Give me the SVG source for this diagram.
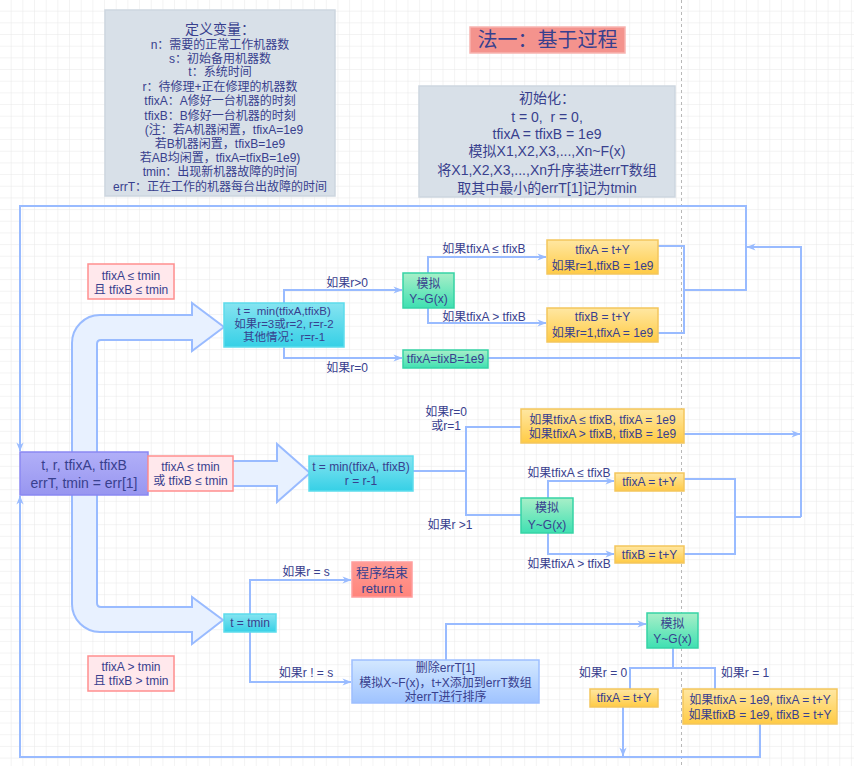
<svg xmlns="http://www.w3.org/2000/svg" width="854" height="766" viewBox="0 0 854 766">
<defs>
<pattern id="grid" width="11.67" height="11.67" patternUnits="userSpaceOnUse">
<path d="M11.67,0 V11.67 H0" fill="none" stroke="#e8e8e8" stroke-width="1"/>
</pattern>
<linearGradient id="gC" x1="0" y1="0" x2="0" y2="1"><stop offset="0" stop-color="#86e4f1"/><stop offset="1" stop-color="#36d0e6"/></linearGradient>
<linearGradient id="gG" x1="0" y1="0" x2="0" y2="1"><stop offset="0" stop-color="#a8efc8"/><stop offset="1" stop-color="#3fe0b2"/></linearGradient>
<linearGradient id="gY" x1="0" y1="0" x2="0" y2="1"><stop offset="0" stop-color="#ffe7a2"/><stop offset="1" stop-color="#ffcb45"/></linearGradient>
<linearGradient id="gB" x1="0" y1="0" x2="0" y2="1"><stop offset="0" stop-color="#d3e8ff"/><stop offset="1" stop-color="#9fc3ff"/></linearGradient>
<linearGradient id="gP" x1="0" y1="0" x2="0" y2="1"><stop offset="0" stop-color="#b1aff8"/><stop offset="1" stop-color="#9896f0"/></linearGradient>
<linearGradient id="gR" x1="0" y1="0" x2="0" y2="1"><stop offset="0" stop-color="#ff9c95"/><stop offset="1" stop-color="#ff847b"/></linearGradient>
<marker id="a" viewBox="0 0 10 10" refX="9.5" refY="5" markerWidth="9" markerHeight="9" orient="auto" markerUnits="userSpaceOnUse">
<path d="M0,1 L10,5 L0,9 L3,5 Z" fill="#99bbff"/>
</marker>
<style>
.t{font-family:"Liberation Sans","Noto Sans CJK SC",sans-serif;fill:#38408e;text-anchor:middle;font-size:12px}
.c{fill:none;stroke:#99bbff;stroke-width:2}
.ar{marker-end:url(#a)}
.gray{fill:#d8e0e8;stroke:#cdd6df;stroke-width:1.5}
.cy{fill:url(#gC);stroke:#5cdcec;stroke-width:1.5}
.gr{fill:url(#gG);stroke:#36d4a5;stroke-width:1.5}
.ye{fill:url(#gY);stroke:#f4c65c;stroke-width:1.5}
.pk{fill:#ffe8ec;stroke:#ff8f8f;stroke-width:1.5}
.big{fill:#e8f1ff;stroke:#99bbff;stroke-width:2}
</style>
</defs>
<rect width="854" height="766" fill="#ffffff"/>
<rect width="854" height="766" fill="url(#grid)"/>
<line x1="681.5" y1="0" x2="681.5" y2="766" stroke="#b8b8b8" stroke-width="1" stroke-dasharray="3,3"/>

<g id="defs-box">
<rect class="gray" x="105" y="10" width="230" height="186"/>
<text class="t" x="220" y="34" style="font-size:14px">定义变量：</text>
<text class="t" x="220" y="49">n：需要的正常工作机器数</text>
<text class="t" x="220" y="63">s：初始备用机器数</text>
<text class="t" x="220" y="76">t：系统时间</text>
<text class="t" x="220" y="91">r：待修理+正在修理的机器数</text>
<text class="t" x="220" y="105">tfixA：A修好一台机器的时刻</text>
<text class="t" x="220" y="120">tfixB：B修好一台机器的时刻</text>
<text class="t" x="224" y="134">(注：若A机器闲置，tfixA=1e9</text>
<text class="t" x="220" y="148">若B机器闲置，tfixB=1e9</text>
<text class="t" x="220" y="162">若AB均闲置，tfixA=tfixB=1e9)</text>
<text class="t" x="220" y="176">tmin：出现新机器故障的时间</text>
<text class="t" x="220" y="191">errT：正在工作的机器每台出故障的时间</text>
</g>

<g id="title">
<rect x="470" y="27" width="155" height="26" fill="#f4938d" stroke="#f8b4b0" stroke-width="1.5"/>
<text class="t" x="547.5" y="47" style="font-size:20px">法一：基于过程</text>
</g>

<g id="init">
<rect class="gray" x="419" y="86" width="256" height="111"/>
<text class="t" x="547" y="103" style="font-size:14px">初始化：</text>
<text class="t" x="547" y="122" style="font-size:14px">t = 0,&#160; r = 0,</text>
<text class="t" x="547" y="139" style="font-size:14px">tfixA = tfixB = 1e9</text>
<text class="t" x="547" y="156" style="font-size:14px">模拟X1,X2,X3,...,Xn~F(x)</text>
<text class="t" x="547" y="175" style="font-size:14px">将X1,X2,X3,...,Xn升序装进errT数组</text>
<text class="t" x="547" y="193" style="font-size:14px">取其中最小的errT[1]记为tmin</text>
</g>

<g id="connectors">
<path class="c" d="M658,246 H684 V333 H658"/>
<path class="c ar" d="M684,290 H746 V206 H20 V451"/>
<path class="c" d="M488,358 H801"/>
<path class="c ar" d="M684,434 H800"/>
<path class="c ar" d="M801,517 V247 H747"/>
<path class="c ar" d="M284,303 V290 H402"/>
<path class="c ar" d="M284,347 V358 H402"/>
<path class="c ar" d="M428,273 V257 H546"/>
<path class="c ar" d="M428,308 V323 H546"/>
<path class="c" d="M413,471 H466"/>
<path class="c" d="M521,427 H466 V515 H521"/>
<path class="c ar" d="M548,498 V481 H614"/>
<path class="c ar" d="M548,533 V554 H614"/>
<path class="c" d="M684,479 H735 V554 H684"/>
<path class="c" d="M735,517 H801"/>
<path class="c ar" d="M250,614 V580 H351"/>
<path class="c ar" d="M250,632 V682 H351"/>
<path class="c ar" d="M446,660 V624 H646"/>
<path class="c" d="M673,648 V668"/>
<path class="c" d="M630,689 V668 H715 V689"/>
<path class="c ar" d="M623,707 V756"/>
<path class="c ar" d="M760,724 V757 H20 V496"/>
</g>

<g id="edge-labels">
<text class="t" x="347" y="287">如果r&gt;0</text>
<text class="t" x="347" y="372">如果r=0</text>
<text class="t" x="484" y="253">如果tfixA ≤ tfixB</text>
<text class="t" x="484" y="321">如果tfixA &gt; tfixB</text>
<text class="t" x="446" y="416">如果r=0</text>
<text class="t" x="446" y="430">或r=1</text>
<text class="t" x="450" y="529">如果r &gt;1</text>
<text class="t" x="569" y="477">如果tfixA ≤ tfixB</text>
<text class="t" x="569" y="568">如果tfixA &gt; tfixB</text>
<text class="t" x="306" y="576">如果r = s</text>
<text class="t" x="306" y="677">如果r ! = s</text>
<text class="t" x="603" y="677">如果r = 0</text>
<text class="t" x="745" y="677">如果r = 1</text>
</g>

<g id="big-arrows">
<path class="big" d="M72,470 V343 A28,28 0 0 1 100,315 H192 V303 L224,327 L192,351 V340 H101 Q97,340 97,344 V470 Z"/>
<path class="big" d="M72,475 V604 A28,28 0 0 0 100,632 H192 V644 L223,620 L192,597 V607 H101 Q97,607 97,603 V475 Z"/>
<path class="big" d="M150,461 H277 V444 L310,473 L277,502 V486 H150 Z"/>
</g>

<g id="state">
<rect x="20" y="452" width="128" height="43" fill="url(#gP)" stroke="#8a88f2" stroke-width="1.5"/>
<text class="t" x="84" y="470" style="font-size:14px">t, r, tfixA, tfixB</text>
<text class="t" x="84" y="488" style="font-size:14px">errT, tmin = err[1]</text>
</g>

<g id="cond-mid">
<rect class="pk" x="148" y="456" width="85" height="35"/>
<text class="t" x="190.5" y="471">tfixA ≤ tmin</text>
<text class="t" x="190.5" y="485">或 tfixB ≤ tmin</text>
</g>

<g id="cond-up">
<rect class="pk" x="88" y="264" width="86" height="35"/>
<text class="t" x="131" y="280">tfixA ≤ tmin</text>
<text class="t" x="131" y="294">且 tfixB ≤ tmin</text>
</g>

<g id="cond-down">
<rect class="pk" x="88" y="656" width="86" height="35"/>
<text class="t" x="131" y="671">tfixA &gt; tmin</text>
<text class="t" x="131" y="685">且 tfixB &gt; tmin</text>
</g>

<g id="tmin-up">
<rect class="cy" x="224" y="303" width="120" height="44"/>
<text class="t" x="284" y="315" style="font-size:11.5px">t =&#160; min(tfixA,tfixB)</text>
<text class="t" x="284" y="328" style="font-size:11.5px">如果r=3或r=2, r=r-2</text>
<text class="t" x="284" y="341" style="font-size:11.5px">其他情况：r=r-1</text>
</g>

<g id="sim-up">
<rect class="gr" x="403" y="273" width="51" height="35"/>
<text class="t" x="428.5" y="288">模拟</text>
<text class="t" x="428.5" y="303">Y~G(x)</text>
</g>

<g id="fixA-up">
<rect class="ye" x="547" y="240" width="111" height="34"/>
<text class="t" x="602.5" y="254">tfixA = t+Y</text>
<text class="t" x="602.5" y="270">如果r=1,tfixB = 1e9</text>
</g>

<g id="fixB-up">
<rect class="ye" x="547" y="308" width="111" height="34"/>
<text class="t" x="602.5" y="321">tfixB = t+Y</text>
<text class="t" x="602.5" y="337">如果r=1,tfixA = 1e9</text>
</g>

<g id="reset">
<rect class="gr" x="403" y="350" width="85" height="18"/>
<text class="t" x="445.5" y="363">tfixA=tixB=1e9</text>
</g>

<g id="tmin-mid">
<rect class="cy" x="309" y="456" width="104" height="35"/>
<text class="t" x="361" y="471">t = min(tfixA, tfixB)</text>
<text class="t" x="361" y="485">r = r-1</text>
</g>

<g id="fix-mid">
<rect class="ye" x="521" y="409" width="163" height="34"/>
<text class="t" x="602.5" y="424">如果tfixA ≤ tfixB, tfixA = 1e9</text>
<text class="t" x="602.5" y="438">如果tfixA &gt; tfixB, tfixB = 1e9</text>
</g>

<g id="sim-mid">
<rect class="gr" x="521" y="498" width="52" height="35"/>
<text class="t" x="547" y="512">模拟</text>
<text class="t" x="547" y="529">Y~G(x)</text>
</g>

<g id="fixA-mid">
<rect class="ye" x="615" y="473" width="69" height="18"/>
<text class="t" x="649.5" y="486">tfixA = t+Y</text>
</g>

<g id="fixB-mid">
<rect class="ye" x="615" y="546" width="69" height="17"/>
<text class="t" x="649.5" y="559">tfixB = t+Y</text>
</g>

<g id="tmin-down">
<rect class="cy" x="224" y="614" width="52" height="18"/>
<text class="t" x="250" y="627">t = tmin</text>
</g>

<g id="end">
<rect x="352" y="562" width="60" height="35" fill="url(#gR)" stroke="#ff9d9d" stroke-width="1.5"/>
<text class="t" x="382" y="577" style="font-size:13px">程序结束</text>
<text class="t" x="382" y="593" style="font-size:13px">return t</text>
</g>

<g id="update">
<rect x="352" y="660" width="187" height="43" fill="url(#gB)" stroke="#9dbfff" stroke-width="1.5"/>
<text class="t" x="445.5" y="672">删除errT[1]</text>
<text class="t" x="445.5" y="687">模拟X~F(x)，t+X添加到errT数组</text>
<text class="t" x="445.5" y="701">对errT进行排序</text>
</g>

<g id="sim-down">
<rect class="gr" x="647" y="613" width="51" height="35"/>
<text class="t" x="672.5" y="628">模拟</text>
<text class="t" x="672.5" y="643">Y~G(x)</text>
</g>

<g id="fixA-down">
<rect class="ye" x="590" y="689" width="68" height="18"/>
<text class="t" x="624" y="702">tfixA = t+Y</text>
</g>

<g id="fix-down">
<rect class="ye" x="683" y="689" width="154" height="35"/>
<text class="t" x="760" y="704">如果tfixA = 1e9, tfixA = t+Y</text>
<text class="t" x="760" y="719">如果tfixB = 1e9, tfixB = t+Y</text>
</g>
</svg>
